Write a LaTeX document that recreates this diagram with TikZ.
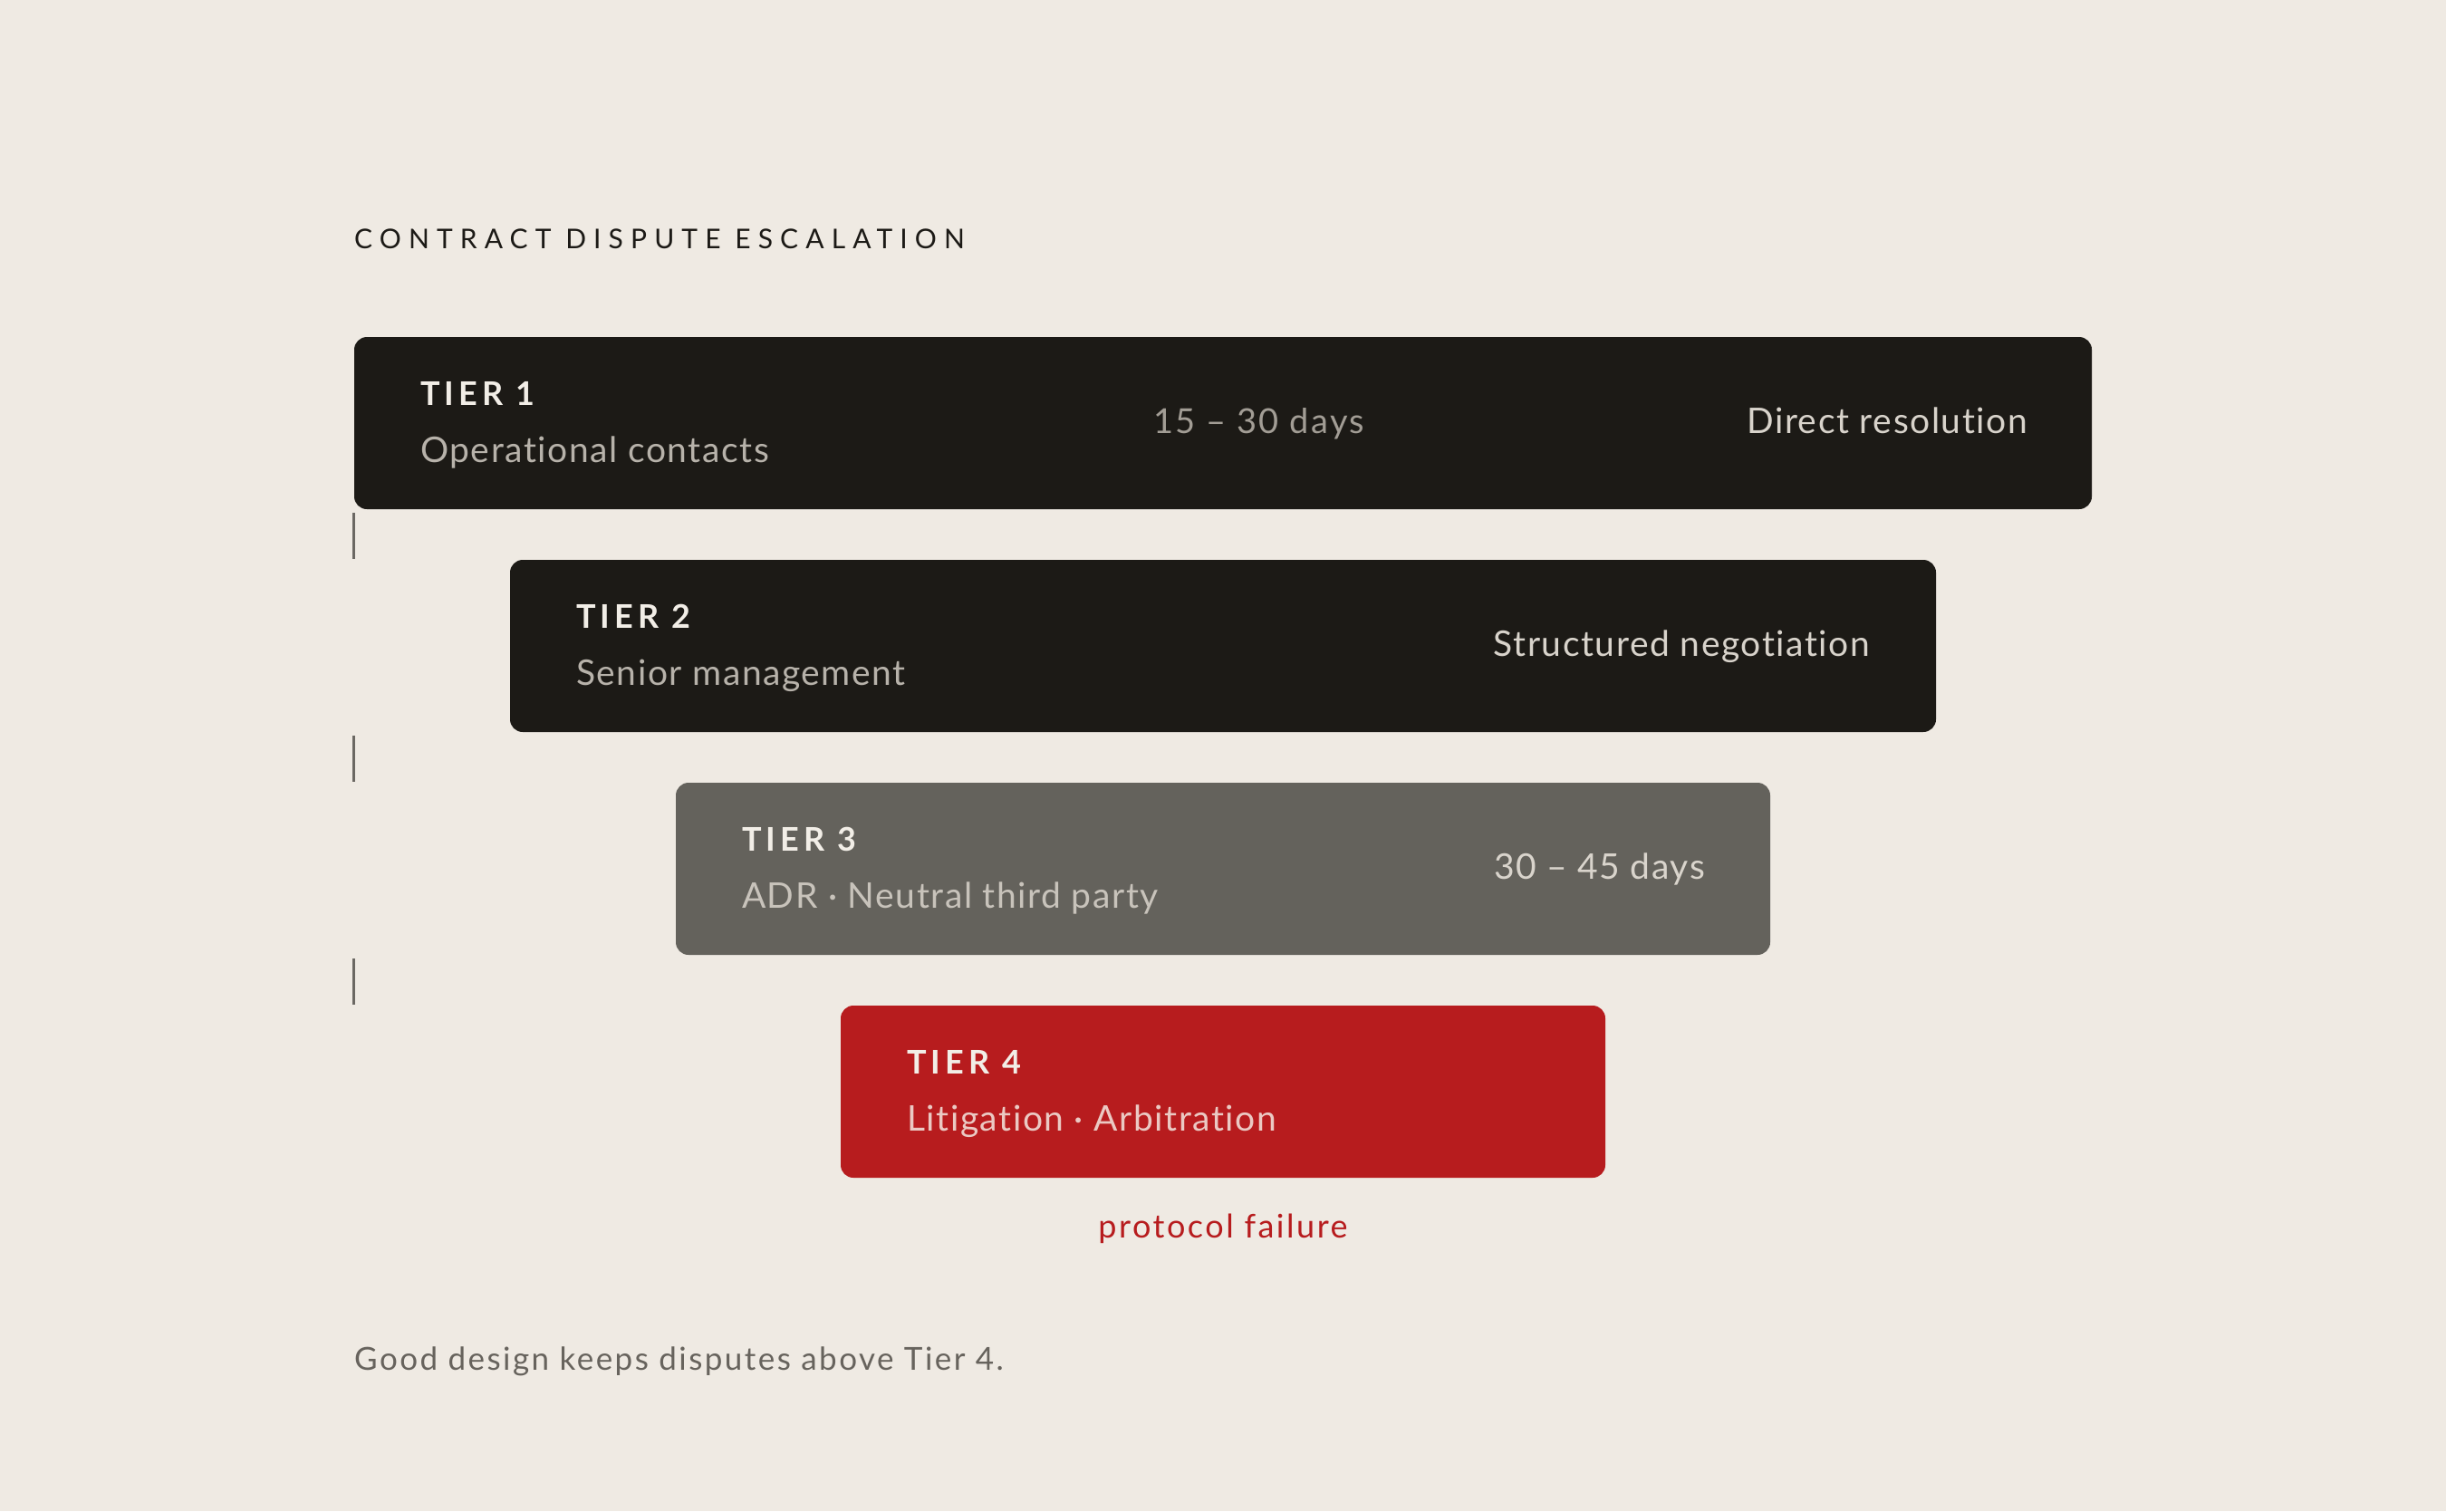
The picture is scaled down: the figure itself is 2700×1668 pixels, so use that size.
\documentclass[tikz,border=0pt]{standalone}
\usepackage{fontspec}
\setmainfont[Ligatures=NoCommon]{Lato}
\newfontfamily\titlefont[LetterSpace=27,Ligatures=NoCommon]{Lato}
\newfontfamily\tierfont[LetterSpace=14,Ligatures=NoCommon]{Lato Bold}
\newfontfamily\subfont[LetterSpace=4,Ligatures=NoCommon]{Lato}
\newfontfamily\midfont[LetterSpace=6,Ligatures=NoCommon]{Lato}
\newfontfamily\pffont[LetterSpace=7,Ligatures=NoCommon]{Lato}
\newfontfamily\footfont[LetterSpace=7,Ligatures=NoCommon]{Lato}
\usetikzlibrary{calc}
\definecolor{bg}{HTML}{EFEAE3}
\definecolor{darkbox}{HTML}{1C1A16}
\definecolor{graybox}{HTML}{64625C}
\definecolor{redbox}{HTML}{B71C1E}
\definecolor{labelc}{HTML}{F2EEE7}
\definecolor{subdark}{HTML}{B7B2AA}
\definecolor{rightdark}{HTML}{D8D3CB}
\definecolor{midc}{HTML}{A29D95}
\definecolor{subgray}{HTML}{C8C3BB}
\definecolor{rightgray}{HTML}{D9D4CC}
\definecolor{subred}{HTML}{EBC9C3}
\definecolor{footc}{HTML}{67635D}
\definecolor{titlec}{HTML}{1C1A16}
\definecolor{tickc}{HTML}{6B6863}
\tikzset{
  tierbox/.style={rectangle, rounded corners=14pt, inner sep=0pt, minimum height=190pt, draw=none},
  tierlabel/.style={anchor=base west, inner sep=0pt, text=labelc, font=\tierfont\fontsize{36}{40}\selectfont},
  tiersub/.style={anchor=base west, inner sep=0pt, font=\subfont\fontsize{39}{44}\selectfont},
  tierright/.style={anchor=base east, inner sep=0pt, font=\subfont\fontsize{39}{44}\selectfont},
  tiermid/.style={anchor=base west, inner sep=0pt, text=midc, font=\midfont\fontsize{38}{42}\selectfont},
  tickline/.style={draw=tickc, line width=3pt, shorten <=4pt, shorten >=1pt},
}
\begin{document}
\begin{tikzpicture}[x=1pt, y=-1pt]
\useasboundingbox (0,0) rectangle (2700,1668);
\fill[bg] (0,0) rectangle (2700,1668);

\node[anchor=base west, inner sep=0pt, text=titlec, font=\titlefont\fontsize{30}{34}\selectfont] (title) at (391,274) {CONTRACT DISPUTE ESCALATION};

\node[tierbox, fill=darkbox, minimum width=1918pt] (t1) at (1350,467) {};
\node[tierbox, fill=darkbox, minimum width=1574pt] (t2) at (1350,713) {};
\node[tierbox, fill=graybox, minimum width=1208pt] (t3) at (1350,959) {};
\node[tierbox, fill=redbox, minimum width=844pt] (t4) at (1350,1205) {};

% tier 1
\node[tierlabel] (l1) at ($(t1.north west)+(73,76)$) {TIER 1};
\node[tiersub, text=subdark] (s1) at ($(t1.north west)+(73,139)$) {Operational contacts};
\node[tiermid] (m1) at ($(t1.north west)+(882,107)$) {15 – 30 days};
\node[tierright, text=rightdark] (r1) at ($(t1.north east)+(-71,107)$) {Direct resolution};

% tier 2
\node[tierlabel] (l2) at ($(t2.north west)+(73,76)$) {TIER 2};
\node[tiersub, text=subdark] (s2) at ($(t2.north west)+(73,139)$) {Senior management};
\node[tierright, text=rightdark] (r2) at ($(t2.north east)+(-73,107)$) {Structured negotiation};

% tier 3
\node[tierlabel] (l3) at ($(t3.north west)+(73,76)$) {TIER 3};
\node[tiersub, text=subgray] (s3) at ($(t3.north west)+(73,139)$) {ADR · Neutral third party};
\node[tierright, text=rightgray] (r3) at ($(t3.north east)+(-72,107)$) {30 – 45 days};

% tier 4
\node[tierlabel] (l4) at ($(t4.north west)+(73,76)$) {TIER 4};
\node[tiersub, text=subred] (s4) at ($(t4.north west)+(73,139)$) {Litigation · Arbitration};

% ticks
\draw[tickline] (t1.south west) -- (t1.west |- t2.north);
\draw[tickline] (t1.west |- t2.south) -- (t1.west |- t3.north);
\draw[tickline] (t1.west |- t3.south) -- (t1.west |- t4.north);

\node[anchor=base, inner sep=0pt, text=redbox, font=\pffont\fontsize{36}{40}\selectfont] (pf) at ($(t4.south)+(0,66)$) {protocol failure};

\node[anchor=base west, inner sep=0pt, text=footc, font=\footfont\fontsize{35}{40}\selectfont] (foot) at (391,1512) {Good design keeps disputes above Tier 4.};
\end{tikzpicture}
\end{document}
